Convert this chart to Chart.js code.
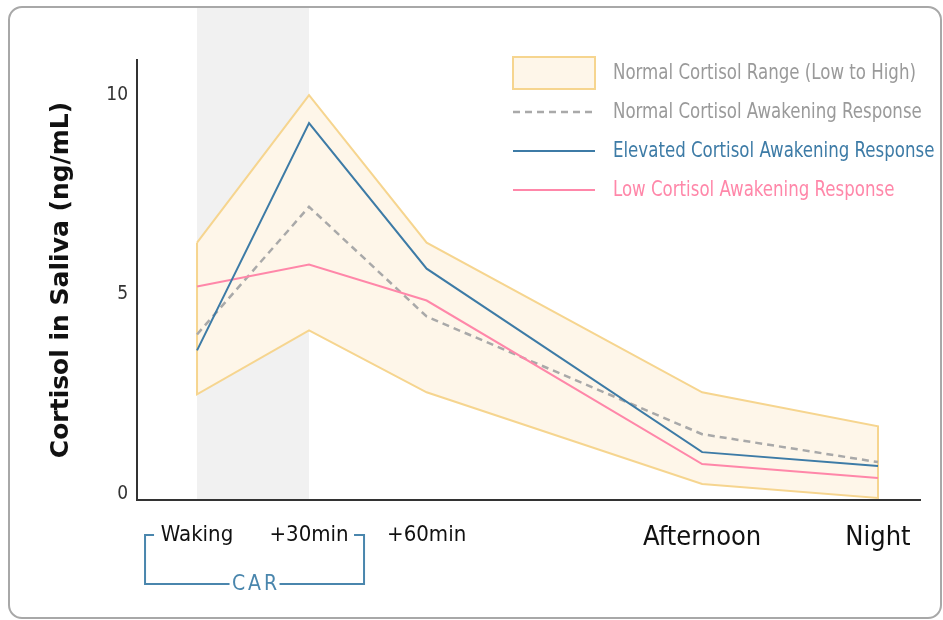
<!DOCTYPE html>
<html lang="en">
<head>
  <meta charset="UTF-8" />
  <title>Cortisol Awakening Response</title>
  <script src="https://cdn.jsdelivr.net/npm/chart.js"></script>
  <style>
    body { margin: 0; background: #fff; }
    #card {
      position: absolute; left: 8px; top: 6px; width: 934px; height: 613px;
      box-sizing: border-box; border: 2px solid #a8a8a8; border-radius: 14px;
    }
    #chart { position: absolute; left: 0; top: 0; }
  </style>
</head>
<body>
  <div id="card"></div>
  <canvas id="chart" width="943" height="620"></canvas>

  <script>
    // data
    const xLabels = ['Waking', '+30min', '+60min', 'Afternoon', 'Night'];
    const xPos = [0, 1, 2.05, 4.51, 6.08];
    const rangeHigh = [6.3, 10.0, 6.3, 2.55, 1.7];
    const rangeLow = [2.5, 4.1, 2.55, 0.25, -0.1];
    const normalCAR = [4.0, 7.2, 4.45, 1.5, 0.8];
    const elevatedCAR = [3.6, 9.3, 5.65, 1.05, 0.7];
    const lowCAR = [5.2, 5.75, 4.85, 0.75, 0.4];
    const yTicks = [0, 5, 10];

    const NARROW = '"DejaVu Sans Condensed", "Liberation Sans Narrow", sans-serif';
    const BLUE = '#3d7ba6';
    const PINK = '#ff87a9';
    const GREY = '#a9a9a9';
    const SAND = '#f6d58f';

    const pts = arr => arr.map((v, i) => ({ x: xPos[i], y: v }));

    // closed polygon: top edge left->right, bottom edge right->left
    const rangeShape = pts(rangeHigh)
      .concat(pts(rangeLow).reverse())
      .concat([{ x: xPos[0], y: rangeHigh[0] }]);

    // text squeezed a bit, the original uses a condensed face
    function squeezed(ctx, text, x, y, k) {
      const w = ctx.measureText(text).width;
      ctx.fillText(text, x, y, w * k);
    }

    // grey CAR band behind the lines
    const carBand = {
      id: 'carBand',
      beforeDatasetsDraw(chart) {
        const { ctx, chartArea, scales: { x } } = chart;
        const x0 = x.getPixelForValue(xPos[0]);
        const x1 = x.getPixelForValue(xPos[1]);
        ctx.save();
        ctx.fillStyle = '#f1f1f1';
        ctx.fillRect(x0, 8, x1 - x0, chartArea.bottom - 9);
        ctx.restore();
      }
    };

    // bracket under Waking / +30min
    const carBracket = {
      id: 'carBracket',
      afterDraw(chart) {
        const { ctx, scales: { x } } = chart;
        const a = x.getPixelForValue(xPos[0]) - 52;
        const b = x.getPixelForValue(xPos[1]) + 55;
        const mid = (a + b) / 2;
        const top = 535, bot = 584;
        ctx.save();
        ctx.strokeStyle = '#4a86ad';
        ctx.lineWidth = 2;
        ctx.beginPath();
        ctx.moveTo(a + 9, top); ctx.lineTo(a, top); ctx.lineTo(a, bot); ctx.lineTo(mid - 25, bot);
        ctx.moveTo(mid + 25, bot); ctx.lineTo(b, bot); ctx.lineTo(b, top); ctx.lineTo(b - 10, top);
        ctx.stroke();
        ctx.fillStyle = '#4a86ad';
        ctx.font = '21px ' + NARROW;
        ctx.letterSpacing = '3px';
        ctx.textAlign = 'center';
        ctx.textBaseline = 'middle';
        ctx.fillText('CAR', mid + 1.5, bot + 1);
        ctx.restore();
      }
    };

    // legend in the top right corner
    const sideLegend = {
      id: 'sideLegend',
      afterDraw(chart) {
        const { ctx } = chart;
        const rows = [0, 1, 2, 3];
        const textColors = ['#9a9a9a', '#9a9a9a', BLUE, PINK];
        ctx.save();
        rows.forEach((i, r) => {
          const ds = chart.data.datasets[i];
          const y = 73 + r * 39;
          if (i === 0) {
            ctx.fillStyle = ds.backgroundColor;
            ctx.fillRect(513, 57, 82, 32);
            ctx.strokeStyle = ds.borderColor;
            ctx.lineWidth = 2;
            ctx.strokeRect(513, 57, 82, 32);
          } else {
            ctx.strokeStyle = ds.borderColor;
            ctx.lineWidth = ds.borderWidth;
            ctx.setLineDash(ds.borderDash || []);
            ctx.beginPath();
            ctx.moveTo(513, y); ctx.lineTo(595, y);
            ctx.stroke();
            ctx.setLineDash([]);
          }
          ctx.fillStyle = textColors[r];
          ctx.font = '22px ' + NARROW;
          ctx.textBaseline = 'middle';
          squeezed(ctx, ds.label, 613, y, 0.84);
        });
        ctx.restore();
      }
    };

    new Chart(document.getElementById('chart').getContext('2d'), {
      type: 'line',
      data: {
        datasets: [
          {
            label: 'Normal Cortisol Range (Low to High)',
            data: rangeShape,
            fill: 'shape',
            backgroundColor: '#fef6e9',
            borderColor: SAND,
            borderWidth: 2,
            order: 4
          },
          {
            label: 'Normal Cortisol Awakening Response',
            data: pts(normalCAR),
            borderColor: GREY,
            borderWidth: 2.5,
            borderDash: [7, 5],
            order: 3
          },
          {
            label: 'Elevated Cortisol Awakening Response',
            data: pts(elevatedCAR),
            borderColor: BLUE,
            borderWidth: 2,
            order: 1
          },
          {
            label: 'Low Cortisol Awakening Response',
            data: pts(lowCAR),
            borderColor: PINK,
            borderWidth: 2,
            order: 2
          }
        ]
      },
      options: {
        responsive: false,
        animation: false,
        layout: { padding: { top: 60, right: 23, left: 0, bottom: 0 } },
        elements: { point: { radius: 0 }, line: { tension: 0 } },
        plugins: { legend: { display: false }, tooltip: { enabled: false } },
        scales: {
          x: {
            type: 'linear',
            min: -0.536,
            max: 6.455,
            afterFit: s => { s.height = 120; },
            afterBuildTicks: s => { s.ticks = xPos.map(v => ({ value: v })); },
            grid: { display: false, drawTicks: false },
            border: { display: true, color: '#333', width: 2 },
            ticks: {
              autoSkip: false,
              maxRotation: 0,
              padding: 22,
              color: '#111',
              font: c => ({ family: NARROW, size: c.index >= 3 ? 27 : 22 }),
              callback: (v, i) => xLabels[i]
            }
          },
          y: {
            min: -0.15,
            max: 10.88,
            afterFit: s => { s.width = 137; },
            afterBuildTicks: s => { s.ticks = yTicks.map(v => ({ value: v })); },
            grid: { display: false, drawTicks: false },
            border: { display: true, color: '#333', width: 2 },
            ticks: {
              padding: 9,
              color: '#333',
              font: { family: NARROW, size: 19 }
            },
            title: {
              display: true,
              text: 'Cortisol in Saliva (ng/mL)',
              color: '#111',
              font: { family: 'DejaVu Sans', size: 25, weight: 'bold' },
              padding: { top: 46, bottom: 0 }
            }
          }
        }
      },
      plugins: [carBand, carBracket, sideLegend]
    });
  </script>
</body>
</html>
